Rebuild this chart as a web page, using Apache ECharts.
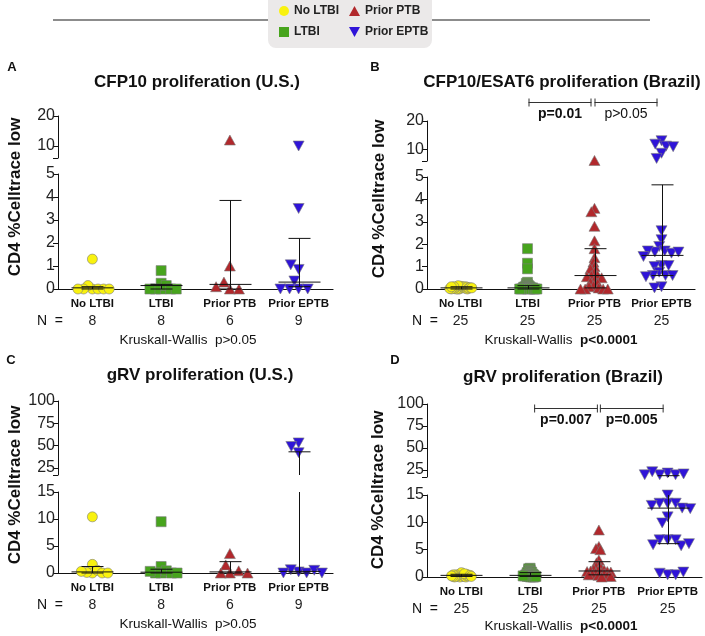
<!DOCTYPE html>
<html><head><meta charset="utf-8">
<script src="https://cdn.jsdelivr.net/npm/echarts@6/dist/echarts.min.js"></script>
<style>html,body{margin:0;padding:0;background:#fff}#c{width:705px;height:636px}</style>
</head><body><div id="c"></div>
<script>
// ---------------- DATA ----------------
const categories = ['No LTBI', 'LTBI', 'Prior PTB', 'Prior EPTB'];

// Panel A: CFP10 proliferation (U.S.)
const aNoLtbi = [0, 0.15, 0, 0, 0, 0, 0, 1.3];
const aLtbi   = [0, 0.25, 0, 0.8, 0.15, 0, 0, 0];
const aPtb    = [0, 0.3, 12, 1.0, 0, 0.1];
const aEptb   = [0, 0.35, 10, 3.5, 0.85, 1.05, 0, 0, 0];
const aMedian = [0.05, 0.15, 0.2, 0.3];
const aQ1     = [0, 0, 0, 0.1];
const aQ3     = [0.1, 0.2, 3.85, 2.2];
const aN      = [8, 8, 6, 9];

// Panel B: CFP10/ESAT6 proliferation (Brazil)
const bNoLtbi = [0.05, 0.1, 0, 0.05, 0.08, 0, 0.1, 0.12, 0.05, 0, 0.03, 0.06, 0.1, 0.15, 0.02, 0, 0.05, 0.08, 0.1, 0.04, 0, 0.06, 0.02, 0.05, 0.1];
const bLtbi   = [1.8, 1.15, 0.9, 0.3, 0.25, 0.2, 0.15, 0.15, 0.1, 0.1, 0.1, 0.08, 0.05, 0.05, 0.05, 0.05, 0.03, 0.02, 0, 0, 0, 0, 0, 0, 0];
const bPtb    = [6.2, 3.6, 3.45, 2.8, 2.15, 1.8, 1.4, 1.2, 1.0, 0.9, 0.75, 0.6, 0.6, 0.55, 0.5, 0.4, 0.3, 0.25, 0.15, 0.1, 0.05, 0, 0, 0, 0];
const bEptb   = [13.1, 11.9, 11.2, 11.0, 8.7, 6.9, 2.6, 2.2, 1.9, 1.7, 1.65, 1.6, 1.7, 1.65, 1.45, 1.05, 1.0, 1.05, 0.75, 0.6, 0.6, 0.6, 0.55, 0.1, 0.05];
const bMedian = [0.05, 0.05, 0.6, 1.5];
const bQ1     = [0, 0, 0.05, 0.6];
const bQ3     = [0.1, 0.15, 1.8, 4.65];
const bN      = [25, 25, 25, 25];

// Panel C: gRV proliferation (U.S.)
const cNoLtbi = [10.4, 1.6, 0, 0.1, 0.5, 0, 0.3, 0];
const cLtbi   = [9.5, 1.2, 0, 0, 0.4, 0, 0.3, 0];
const cPtb    = [0, 1.5, 3.6, 0, 0.4, 0];
const cEptb   = [53, 49, 42, 0.2, 0.6, 0, 0.5, 0, 0];
const cMedian = [0.2, 0.15, 0.2, 0.3];
const cQ1     = [0, 0, 0, 0];
const cQ3     = [1.2, 0.7, 2.1, 43];
const cN      = [8, 8, 6, 9];

// Panel D: gRV proliferation (Brazil)
const dNoLtbi = [0.1, 0.3, 0.2, 0, 0.5, 0.4, 0.1, 0.6, 0.2, 0.3, 0, 0.8, 0.4, 0.2, 0.1, 0.5, 0.3, 0.2, 0, 0.6, 0.4, 0.1, 0.3, 0.2, 0.1];
const dLtbi   = [1.6, 1.5, 1.3, 1.2, 1.0, 0.9, 0.9, 0.8, 0.7, 0.6, 0.5, 0.5, 0.4, 0.4, 0.3, 0.3, 0.2, 0.2, 0.1, 0.1, 0, 0, 0, 0.1, 0.2];
const dPtb    = [8.6, 5.6, 5.2, 5.0, 3.1, 2.6, 2.2, 1.9, 1.6, 1.4, 1.3, 1.2, 1.1, 1.0, 1.0, 0.9, 0.8, 0.7, 0.6, 0.5, 0.4, 0.3, 0.2, 0.1, 0];
const dEptb   = [21.5, 19.5, 19.5, 23, 20.5, 19.5, 15, 13.5, 13.5, 13.5, 13.1, 12.6, 12.5, 11, 9.9, 6.8, 6.8, 6.8, 5.9, 5.7, 6.1, 0.4, 0.7, 0.4, 0.9];
const dMedian = [0.3, 0.3, 1.1, 12.6];
const dQ1     = [0.1, 0.1, 0.4, 6.1];
const dQ3     = [0.5, 0.8, 2.8, 18.5];
const dN      = [25, 25, 25, 25];

const yTicksSmallUpper = [10, 20];
const yTicksLargeUpper = [25, 50, 75, 100];

const titles = ['CFP10 proliferation (U.S.)', 'CFP10/ESAT6 proliferation (Brazil)', 'gRV proliferation (U.S.)', 'gRV proliferation (Brazil)'];
const letters = ['A', 'B', 'C', 'D'];
const kwP = ['p>0.05', 'p<0.0001', 'p>0.05', 'p<0.0001'];
const bPairs = ['p=0.01', 'p>0.05'];
const dPairs = ['p=0.007', 'p=0.005'];
const yName = 'CD4 %Celltrace low';

// ---------------- LAYOUT / STYLE ----------------
const FONT = '"Liberation Sans", Arial, Helvetica, sans-serif';
const colors = ['#f9f20f', '#47a41d', '#b1282c', '#2f14d8'];
const symbols = ['circle', 'rect', 'triangle', 'triangle'];
const rotations = [0, 0, 0, 180];
const symSizes = [10, 10, [11, 10], [11, 10]];

const panels = [
  { groups: [aNoLtbi, aLtbi, aPtb, aEptb], med: aMedian, q1: aQ1, q3: aQ3, n: aN,
    left: 58, width: 275,
    upper: { top: 116, height: 42, min: 6, max: 20, labels: yTicksSmallUpper },
    lower: { top: 174, height: 115, min: 0, max: 5, interval: 1 },
    gaps: [6, 6, 9, 9], title: [197, 82], letter: [7, 67], yname: [15, 197], nEq: 50, kw: [188, 340], kwBold: false },
  { groups: [bNoLtbi, bLtbi, bPtb, bEptb], med: bMedian, q1: bQ1, q3: bQ3, n: bN,
    left: 427, width: 268,
    upper: { top: 121, height: 40, min: 6, max: 20, labels: yTicksSmallUpper },
    lower: { top: 177, height: 112, min: 0, max: 5, interval: 1 },
    gaps: [2, 2, 4.5, 7], title: [562, 82], letter: [370, 67], yname: [379, 199], nEq: 425, kw: [561, 340], kwBold: true },
  { groups: [cNoLtbi, cLtbi, cPtb, cEptb], med: cMedian, q1: cQ1, q3: cQ3, n: cN,
    left: 58, width: 275,
    upper: { top: 401, height: 74, min: 17, max: 100, labels: yTicksLargeUpper },
    lower: { top: 492, height: 81, min: 0, max: 15, interval: 5 },
    gaps: [6, 6, 9, 8], title: [200, 375], letter: [6, 360], yname: [15, 485], nEq: 50, kw: [188, 624], kwBold: false },
  { groups: [dNoLtbi, dLtbi, dPtb, dEptb], med: dMedian, q1: dQ1, q3: dQ3, n: dN,
    left: 427, width: 275,
    upper: { top: 404, height: 73, min: 17, max: 100, labels: yTicksLargeUpper },
    lower: { top: 495, height: 82, min: 0, max: 15, interval: 5 },
    gaps: [2, 2, 3.5, 8], title: [563, 377], letter: [390, 360], yname: [378, 490], nEq: 425, kw: [561, 626], kwBold: true }
];

function renderStats(params, api) {
  const cs = params.coordSys;
  const top = cs.y, bot = cs.y + cs.height;
  const c = api.value(0);
  const pm = api.coord([c, api.value(1)]);
  const pl = api.coord([c, api.value(2)]);
  const ph = api.coord([c, api.value(3)]);
  const x = Math.round(pm[0]) + 0.5;
  const inside = y => y >= top - 0.5 && y <= bot + 0.5;
  const st = { stroke: '#111', lineWidth: 1 };
  const ch = [];
  const y1 = Math.max(top, Math.min(bot, ph[1]));
  const y2 = Math.max(top, Math.min(bot, pl[1]));
  if (y2 - y1 > 0.5) ch.push({ type: 'line', shape: { x1: x, y1: y1, x2: x, y2: y2 }, style: st });
  if (inside(pm[1])) ch.push({ type: 'line', shape: { x1: x - 21, y1: pm[1], x2: x + 21, y2: pm[1] }, style: st });
  if (inside(ph[1])) ch.push({ type: 'line', shape: { x1: x - 11, y1: ph[1], x2: x + 11, y2: ph[1] }, style: st });
  if (inside(pl[1])) ch.push({ type: 'line', shape: { x1: x - 11, y1: pl[1], x2: x + 11, y2: pl[1] }, style: st });
  return { type: 'group', children: ch };
}

const grids = [], xAxes = [], yAxes = [], series = [];
panels.forEach((P, p) => {
  ['upper', 'lower'].forEach((segName, s) => {
    const seg = P[segName];
    const gi = p * 2 + s;
    grids.push({ left: P.left, top: seg.top, width: P.width, height: seg.height, containLabel: false, outerBoundsMode: 'none' });
    const yAxis = {
      gridIndex: gi, type: 'value', min: seg.min, max: seg.max,
      splitLine: { show: false },
      axisLine: { show: true, lineStyle: { color: '#111', width: 1 } },
      axisTick: { show: true, length: 5, lineStyle: { color: '#111' } },
      axisLabel: { fontSize: 16, color: '#222', margin: 3, fontFamily: FONT }
    };
    if (seg.interval) yAxis.interval = seg.interval;
    if (seg.labels) {
      yAxis.axisLabel.customValues = seg.labels;
      yAxis.axisTick.customValues = [seg.min].concat(seg.labels);
    }
    yAxes.push(yAxis);
    for (let g = 0; g < 4; g++) {
      const visible = (s === 1 && g === 0);
      const r = 5.2;
      xAxes.push({
        gridIndex: gi, type: 'category', data: categories, position: 'bottom',
        show: visible,
        jitter: 58, jitterOverlap: false, jitterMargin: P.gaps[g] - 2 * r,
        axisLine: { show: true, onZero: false, lineStyle: { color: '#111', width: 1.2 } },
        axisTick: { show: false },
        axisLabel: {
          show: true, interval: 0, margin: 6,
          formatter: (v, i) => '{c|' + v + '}\n{n|' + P.n[i] + '}',
          rich: {
            c: { fontWeight: 'bold', fontSize: 11.5, lineHeight: 18, fontFamily: FONT, color: '#111' },
            n: { fontSize: 14, lineHeight: 16, fontFamily: FONT, color: '#222' }
          }
        },
        z: 1
      });
    }
    P.groups.forEach((vals, g) => {
      const pts = vals.filter(v => s === 0 ? v > P.lower.max : v <= P.lower.max).map(v => [g, v]);
      series.push({
        type: 'scatter', name: categories[g],
        xAxisIndex: gi * 4 + g, yAxisIndex: gi,
        data: pts, symbol: symbols[g], symbolRotate: rotations[g], symbolSize: symSizes[g],
        itemStyle: { color: colors[g], borderColor: '#7a7a7a', borderWidth: 0.6, opacity: 1 },
        emphasis: { disabled: true }, z: 2, clip: false, animation: false
      });
    });
    series.push({
      type: 'custom', xAxisIndex: gi * 4, yAxisIndex: gi,
      data: P.med.map((m, i) => [i, m, P.q1[i], P.q3[i]]),
      encode: { x: 0, y: 1 }, renderItem: renderStats, z: 5, silent: true, animation: false
    });
  });
});

const legendText = { fontSize: 12, fontWeight: 'bold', fontFamily: FONT, color: '#222' };
const legendItem = { borderWidth: 0, borderColor: 'transparent' };
const option = {
  animation: false,
  grid: grids, xAxis: xAxes, yAxis: yAxes, series: series,
  legend: [
    { orient: 'vertical', left: 274, top: 0, itemWidth: 10, itemHeight: 10, itemGap: 9, selectedMode: false,
      itemStyle: legendItem, textStyle: legendText,
      data: [{ name: 'No LTBI', icon: 'circle' }, { name: 'LTBI', icon: 'rect' }] },
    { orient: 'vertical', left: 344, top: 0, itemWidth: 11, itemHeight: 10, itemGap: 9, selectedMode: false,
      itemStyle: legendItem, textStyle: legendText,
      data: [{ name: 'Prior PTB', icon: 'triangle' }, { name: 'Prior EPTB', icon: 'path://M0,0L10,0L5,9Z' }] }
  ]
};

const chart = echarts.init(document.getElementById('c'), null, { renderer: 'canvas' });
chart.setOption(option);

function txt(x, y, text, size, bold, extra) {
  return Object.assign({
    type: 'text', x: x, y: y, z: 10,
    style: { text: text, fontSize: size, fontWeight: bold ? 'bold' : 'normal', fontFamily: FONT, fill: '#111',
      align: 'center', verticalAlign: 'middle', textAlign: 'center', textVerticalAlign: 'middle' }
  }, extra || {});
}
function bracket(x1, x2, y, label, bold) {
  const st = { stroke: '#333', lineWidth: 1 };
  return [
    { type: 'line', z: 10, shape: { x1: x1, y1: y + 0.5, x2: x2, y2: y + 0.5 }, style: st },
    { type: 'line', z: 10, shape: { x1: x1 + 0.5, y1: y - 3.5, x2: x1 + 0.5, y2: y + 4.5 }, style: st },
    { type: 'line', z: 10, shape: { x1: x2 - 0.5, y1: y - 3.5, x2: x2 - 0.5, y2: y + 4.5 }, style: st },
    txt((x1 + x2) / 2, y + 12, label, 14, bold)
  ];
}

const gfx = [
  { type: 'rect', z: 0, shape: { x: 268, y: -10, width: 164, height: 58, r: 8 }, style: { fill: '#ebe9e9' } },
  { type: 'line', z: 0, shape: { x1: 53, y1: 20, x2: 268, y2: 20 }, style: { stroke: '#666', lineWidth: 1.5 } },
  { type: 'line', z: 0, shape: { x1: 432, y1: 20, x2: 650, y2: 20 }, style: { stroke: '#666', lineWidth: 1.5 } }
];
panels.forEach((P, p) => {
  gfx.push(txt(P.letter[0] + 5, P.letter[1], letters[p], 13, true));
  gfx.push(txt(P.title[0], P.title[1], titles[p], 17, true));
  gfx.push(txt(P.yname[0], P.yname[1], yName, 17, true, { rotation: Math.PI / 2 }));
  const lowerAxisY = P.lower.top + P.lower.height;
  gfx.push(txt(P.nEq, lowerAxisY + 32, 'N  =', 14, false));
  gfx.push({
    type: 'text', x: P.kw[0], y: P.kw[1], z: 10,
    style: {
      text: '{a|Kruskall-Wallis  }{b|' + kwP[p] + '}',
      align: 'center', verticalAlign: 'middle', textAlign: 'center', textVerticalAlign: 'middle',
      rich: {
        a: { fontSize: 13.5, fontFamily: FONT, fill: '#111', color: '#111' },
        b: { fontSize: 13.5, fontFamily: FONT, fontWeight: P.kwBold ? 'bold' : 'normal', fill: '#111', color: '#111' }
      }
    }
  });
});
// significance brackets computed from category axis positions
const cx = (gi, name) => chart.convertToPixel({ xAxisIndex: gi * 4 }, name);
{
  const gi = 3; // panel B lower grid
  const c1 = cx(gi, 'LTBI'), c2 = cx(gi, 'Prior PTB'), c3 = cx(gi, 'Prior EPTB');
  gfx.push(...bracket(c1 + 1, c2 - 3, 102, bPairs[0], true));
  gfx.push(...bracket(c2, c3 - 4, 102, bPairs[1], false));
}
{
  const gi = 7; // panel D lower grid
  const c1 = cx(gi, 'LTBI'), c2 = cx(gi, 'Prior PTB'), c3 = cx(gi, 'Prior EPTB');
  gfx.push(...bracket(c1 + 4, c2 - 1, 408, dPairs[0], true));
  gfx.push(...bracket(c2 + 1, c3 - 4, 408, dPairs[1], true));
}
chart.setOption({ graphic: { elements: gfx } });
</script>
</body></html>
